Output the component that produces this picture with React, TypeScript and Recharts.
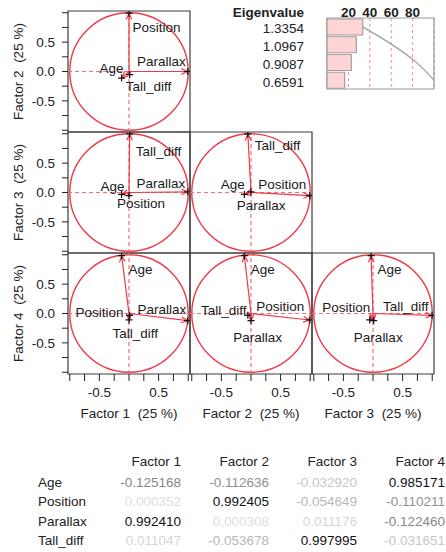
import React from 'react';
import {
  ScatterChart,
  Scatter,
  XAxis,
  YAxis,
  ReferenceLine,
  ReferenceArea,
  ComposedChart,
  Bar,
  Line,
  CartesianGrid,
} from 'recharts';

// ---------------- data ----------------
const variables = ['Age', 'Position', 'Parallax', 'Tall_diff'];
const factor1 = [-0.125168, 0.000352, 0.99241, 0.011047];
const factor2 = [-0.112636, 0.992405, 0.000308, -0.053678];
const factor3 = [-0.03292, -0.054649, 0.011176, 0.997995];
const factor4 = [0.985171, -0.110211, -0.12246, -0.031651];
const factorNames = ['Factor 1', 'Factor 2', 'Factor 3', 'Factor 4'];
const factorPercents = [25, 25, 25, 25];
const eigenvalues = [1.3354, 1.0967, 0.9087, 0.6591];
const variancePercent = [33.4, 27.4, 22.7, 16.5];
const cumulativePercent = [33.4, 60.8, 83.5, 100];
const percentTicks = [20, 40, 60, 80];
const loadingTicks = [-1, -0.75, -0.5, -0.25, 0, 0.25, 0.5, 0.75, 1];
const xTickLabels = [-0.5, 0.5];
const yTickLabels = [-0.5, 0, 0.5];

const factors = [factor1, factor2, factor3, factor4];

// ---------------- styles / layout ----------------
const FONT = '"Liberation Sans", Arial, sans-serif';
const FS = 13.5;
const RED = '#ee3a48';
const RED_DASH = '#f0707c';
const BOX = '#3c3c3c';
const PX0 = 68;
const PY0 = 11;
const PW = 122;
const PH = 121;
const YW = 60;
const XH = 52;
const TM = 2;
const RM = 2;
const DOMAIN: [number, number] = [-1.03, 1.03];

type Place = { a: 'start' | 'middle' | 'end'; dx: number; dy: number };
const labelPlacement: Record<string, Place[]> = {
  '1-2': [
    { a: 'end', dx: 2, dy: -10 },
    { a: 'start', dx: 3.5, dy: 14 },
    { a: 'end', dx: -2, dy: -9.5 },
    { a: 'start', dx: -4, dy: 12 },
  ],
  '1-3': [
    { a: 'end', dx: 3, dy: -8 },
    { a: 'middle', dx: 12, dy: 8 },
    { a: 'end', dx: -2.5, dy: -8.5 },
    { a: 'start', dx: 6, dy: 18 },
  ],
  '2-3': [
    { a: 'end', dx: 0.5, dy: -10 },
    { a: 'end', dx: -3.5, dy: -11.5 },
    { a: 'middle', dx: 10, dy: 14 },
    { a: 'start', dx: 7, dy: 12 },
  ],
  '1-4': [
    { a: 'start', dx: 7, dy: 14 },
    { a: 'end', dx: -5.5, dy: -7 },
    { a: 'end', dx: -1.5, dy: -11 },
    { a: 'middle', dx: 5.5, dy: 18 },
  ],
  '2-4': [
    { a: 'start', dx: 6.5, dy: 13.5 },
    { a: 'end', dx: -5.5, dy: -13 },
    { a: 'middle', dx: 6.5, dy: 16.5 },
    { a: 'end', dx: -1.3, dy: -4.7 },
  ],
  '3-4': [
    { a: 'start', dx: 6.5, dy: 13.5 },
    { a: 'end', dx: 0.5, dy: -12 },
    { a: 'middle', dx: 4.6, dy: 16.5 },
    { a: 'end', dx: -3.5, dy: -8.7 },
  ],
};

const axisTitle = (i: number) => `${factorNames[i]}\u00A0 (${factorPercents[i]} %)`;

// ---------------- shapes ----------------
const UnitCircle = (p: any) => (
  <ellipse
    cx={p.x + p.width / 2}
    cy={p.y + p.height / 2}
    rx={Math.abs(p.width) / 2}
    ry={Math.abs(p.height) / 2}
    fill="none"
    stroke={RED}
    strokeWidth={1.4}
  />
);

const Arrow = (p: any) => {
  const { x1, y1, x2, y2 } = p;
  const len = Math.hypot(x2 - x1, y2 - y1);
  const ang = Math.atan2(y2 - y1, x2 - x1);
  const L = Math.min(7, len);
  const A = 0.42;
  const ax = x2 - L * Math.cos(ang - A);
  const ay = y2 - L * Math.sin(ang - A);
  const bx = x2 - L * Math.cos(ang + A);
  const by = y2 - L * Math.sin(ang + A);
  return (
    <g>
      <line x1={x1} y1={y1} x2={x2} y2={y2} stroke={RED} strokeWidth={1.2} />
      <path d={`M${ax},${ay}L${x2},${y2}L${bx},${by}`} fill="none" stroke={RED} strokeWidth={1.2} />
    </g>
  );
};

const TipMarker = (props: any) => {
  const { cx, cy, payload, panel } = props;
  const place = labelPlacement[panel][payload.i];
  return (
    <g>
      <path d={`M${cx - 3.5},${cy}h7M${cx},${cy - 3.5}v7`} stroke="#111" strokeWidth={1.2} />
      <text
        x={cx + place.dx}
        y={cy + place.dy}
        textAnchor={place.a}
        dominantBaseline="central"
        fontFamily={FONT}
        fontSize={FS}
        fill="#1a1a1a"
      >
        {payload.name}
      </text>
    </g>
  );
};

const XTitle = (props: any) => {
  const { viewBox, value } = props;
  return (
    <text
      x={viewBox.x + viewBox.width / 2}
      y={viewBox.y + 39}
      textAnchor="middle"
      dominantBaseline="central"
      fontFamily={FONT}
      fontSize={FS}
      fill="#222"
      style={{ whiteSpace: 'pre' }}
    >
      {value}
    </text>
  );
};

const YTitle = (props: any) => {
  const { viewBox, value } = props;
  const x = viewBox.x + 10.5;
  const y = viewBox.y + viewBox.height / 2;
  return (
    <text
      transform={`translate(${x},${y}) rotate(-90)`}
      textAnchor="middle"
      dominantBaseline="central"
      fontFamily={FONT}
      fontSize={FS}
      fill="#222"
      style={{ whiteSpace: 'pre' }}
    >
      {value}
    </text>
  );
};

// ---------------- panels ----------------
function Panel({ xi, yi, row, col }: { xi: number; yi: number; row: number; col: number }) {
  const fx = factors[xi];
  const fy = factors[yi];
  const data = variables.map((name, i) => ({ x: fx[i], y: fy[i], name, i }));
  const key = `${xi + 1}-${yi + 1}`;
  const showY = col === 0;
  const showX = row === 2;
  const tickStyle = { fontFamily: FONT, fontSize: FS, fill: '#222' };
  return (
    <div style={{ position: 'absolute', left: PX0 + col * PW - YW, top: PY0 + row * PH - TM }}>
      <ScatterChart
        width={YW + PW + RM}
        height={TM + PH + XH}
        margin={{ top: TM, right: RM, bottom: 0, left: 0 }}
      >
        <XAxis
          type="number"
          dataKey="x"
          domain={DOMAIN}
          ticks={loadingTicks}
          allowDataOverflow
          height={XH}
          axisLine={false}
          tickLine={showX ? { stroke: '#222' } : false}
          tickSize={7}
          tickMargin={6}
          tick={showX ? tickStyle : false}
          tickFormatter={(v: number) => (xTickLabels.includes(v) ? v.toFixed(1) : '')}
          interval={0}
          label={showX ? <XTitle value={axisTitle(xi)} /> : undefined}
        />
        <YAxis
          type="number"
          dataKey="y"
          domain={DOMAIN}
          ticks={loadingTicks}
          allowDataOverflow
          width={YW}
          axisLine={false}
          tickLine={showY ? { stroke: '#222' } : false}
          tickSize={6}
          tickMargin={7}
          tick={showY ? tickStyle : false}
          tickFormatter={(v: number) => (yTickLabels.includes(v) ? v.toFixed(1) : '')}
          interval={0}
          label={showY ? <YTitle value={axisTitle(yi)} /> : undefined}
        />
        <ReferenceLine x={0} stroke={RED_DASH} strokeDasharray="4 3" strokeWidth={1.2} />
        <ReferenceLine y={0} stroke={RED_DASH} strokeDasharray="4 3" strokeWidth={1.2} />
        <ReferenceArea
          x1={DOMAIN[0]}
          x2={DOMAIN[1]}
          y1={DOMAIN[0]}
          y2={DOMAIN[1]}
          fill="none"
          fillOpacity={0}
          stroke={BOX}
          strokeWidth={1.2}
          ifOverflow="visible"
        />
        <ReferenceArea x1={-1} x2={1} y1={-1} y2={1} ifOverflow="visible" shape={UnitCircle} />
        {data.map((d) => (
          <ReferenceLine
            key={d.name}
            segment={[
              { x: 0, y: 0 },
              { x: d.x, y: d.y },
            ]}
            shape={Arrow}
            ifOverflow="visible"
          />
        ))}
        <Scatter
          data={data}
          isAnimationActive={false}
          shape={(p: any) => <TipMarker {...p} panel={key} />}
        />
      </ScatterChart>
    </div>
  );
}

// ---------------- eigenvalue chart ----------------
const eigenData = eigenvalues.map((ev, i) => ({
  name: ev.toFixed(4),
  pct: variancePercent[i],
  cum: cumulativePercent[i],
}));

const PctTick = (p: any) => (
  <text
    x={p.x}
    y={p.y}
    textAnchor="middle"
    fontFamily={FONT}
    fontSize={FS}
    fontWeight="bold"
    fill="#222"
  >
    {p.payload.value}
  </text>
);

const EvTick = (p: any) => (
  <text
    x={p.x}
    y={p.y + 2}
    textAnchor="end"
    dominantBaseline="central"
    fontFamily={FONT}
    fontSize={FS}
    fill="#222"
  >
    {p.payload.value}
  </text>
);

const EvHeader = (p: any) => {
  const { viewBox } = p;
  return (
    <text
      x={viewBox.x + viewBox.width - 23}
      y={viewBox.y - 5.5}
      textAnchor="end"
      dominantBaseline="central"
      fontFamily={FONT}
      fontSize={FS}
      fontWeight="bold"
      fill="#222"
    >
      Eigenvalue
    </text>
  );
};

function EigenChart() {
  return (
    <div style={{ position: 'absolute', left: 227, top: 0 }}>
      <ComposedChart
        layout="vertical"
        width={100 + 107 + 2}
        height={18 + 71 + 2}
        data={eigenData}
        margin={{ top: 0, right: 2, bottom: 2, left: 0 }}
        barCategoryGap={1}
      >
        <CartesianGrid horizontal={false} stroke="#f2889a" strokeDasharray="3 3" />
        <XAxis
          type="number"
          orientation="top"
          domain={[0, 100]}
          ticks={percentTicks}
          height={18}
          axisLine={false}
          tickLine={false}
          tickSize={0}
          tickMargin={1.5}
          tick={<PctTick />}
          interval={0}
        />
        <YAxis
          type="category"
          dataKey="name"
          width={100}
          axisLine={false}
          tickLine={false}
          tickSize={0}
          tickMargin={23}
          tick={<EvTick />}
          interval={0}
          label={<EvHeader />}
        />
        <Bar dataKey="pct" fill="#ffd4d4" stroke="#a0a0a0" strokeWidth={1.2} isAnimationActive={false} />
        <Line
          dataKey="cum"
          type="monotone"
          stroke="#a0a0a0"
          strokeWidth={1.3}
          dot={false}
          isAnimationActive={false}
        />
        <ReferenceArea x1={0} x2={100} fill="none" fillOpacity={0} stroke="#999" strokeWidth={1.2} ifOverflow="visible" />
      </ComposedChart>
    </div>
  );
}

// ---------------- table ----------------
const colRight = [181, 269, 357, 445];
const headerY = 462;
const rowY = [483, 502, 522, 541];

function loadingColor(v: number) {
  const a = Math.abs(v);
  if (a > 0.5) return '#111';
  const g = Math.max(0, Math.min(255, Math.round(222 - a * 700)));
  return `rgb(${g},${g},${g})`;
}

function LoadingTable() {
  const cell = (text: string, right: number, y: number, color: string, key: string) => (
    <div
      key={key}
      style={{
        position: 'absolute',
        left: right - 90,
        width: 90,
        top: y - 8,
        height: 16,
        lineHeight: '16px',
        textAlign: 'right',
        color,
        whiteSpace: 'pre',
      }}
    >
      {text}
    </div>
  );
  return (
    <div style={{ position: 'absolute', left: 0, top: 0, fontFamily: FONT, fontSize: FS }}>
      {factorNames.map((f, j) => cell(f, colRight[j], headerY, '#222', 'h' + j))}
      {variables.map((name, i) => (
        <div
          key={'r' + i}
          style={{
            position: 'absolute',
            left: 38,
            top: rowY[i] - 8,
            height: 16,
            lineHeight: '16px',
            color: '#222',
            whiteSpace: 'pre',
          }}
        >
          {name}
        </div>
      ))}
      {variables.map((name, i) =>
        factors.map((f, j) => cell(f[i].toFixed(6), colRight[j], rowY[i], loadingColor(f[i]), `c${i}-${j}`))
      )}
    </div>
  );
}

// ---------------- app ----------------
const panels: { xi: number; yi: number; row: number; col: number }[] = [];
for (let row = 0; row < 3; row++) {
  for (let col = 0; col <= row; col++) {
    panels.push({ xi: col, yi: row + 1, row, col });
  }
}

export default function App() {
  return (
    <div
      style={{
        position: 'absolute',
        left: 0,
        top: 0,
        width: 446,
        height: 552,
        background: '#fff',
        overflow: 'hidden',
        fontFamily: FONT,
      }}
    >
      {panels.map((p) => (
        <Panel key={`${p.row}-${p.col}`} {...p} />
      ))}
      <EigenChart />
      <LoadingTable />
    </div>
  );
}
